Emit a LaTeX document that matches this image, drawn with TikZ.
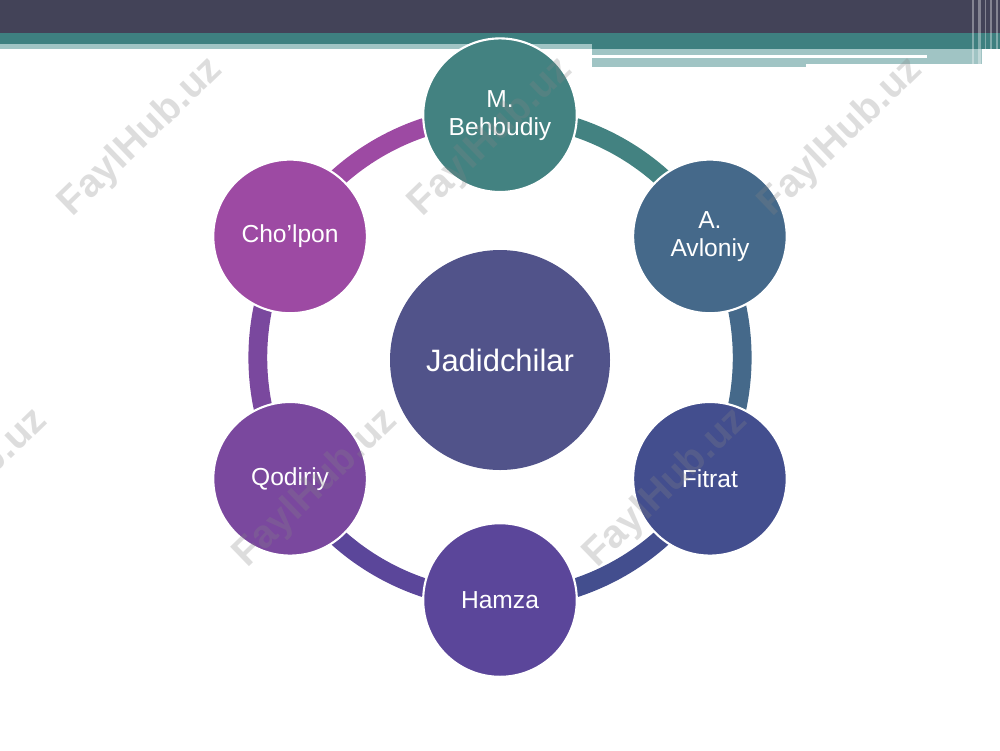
\documentclass[tikz,border=0pt]{standalone}
\usepackage{fontspec}
\setmainfont{Liberation Sans}
\usetikzlibrary{calc,positioning,backgrounds}
\definecolor{barDark}{HTML}{434358}
\definecolor{barTeal}{HTML}{3E8080}
\definecolor{barLight}{HTML}{A0C4C4}
\definecolor{cBeh}{HTML}{438281}
\definecolor{cAvl}{HTML}{45698A}
\definecolor{cFit}{HTML}{434E8E}
\definecolor{cHam}{HTML}{5B469A}
\definecolor{cQod}{HTML}{7A489E}
\definecolor{cCho}{HTML}{9D4AA3}
\definecolor{cJad}{HTML}{51538A}
\tikzset{
        person/.style = {circle, draw=white, line width=1.5pt,
            text=white, align=center,
            minimum size=3.84cm,
            font=\fontsize{17.5}{20}\selectfont},
        hub/.style = {circle, fill=cJad, text=white,
            minimum size=5.5cm,
            font=\fontsize{22}{26}\selectfont},
        ring/.style = {line width=0.47cm, bend left=30, looseness=0.91},
        wmark/.style = {rotate=44, text=black!48, text opacity=0.27,
            font=\bfseries\fontsize{28}{28}\selectfont},
    }

\begin{document}
\begin{tikzpicture}
    \useasboundingbox (0,0) rectangle (25,-18.75);

    % header bars
    \fill[barDark] (0,0) rectangle (25,-0.83);
    \fill[barTeal] (0,-0.83) rectangle (25,-1.1);
    \fill[barTeal] (14.8,-1.1) rectangle (25,-1.225);
    \fill[barLight] (0,-1.1) rectangle (14.8,-1.225);
    \fill[barLight] (14.8,-1.225) rectangle (24.55,-1.6);
    \fill[barLight] (14.8,-1.6) rectangle (20.15,-1.675);
    \fill[white] (14.8,-1.375) rectangle (23.175,-1.45);
    \foreach \x/\w in {24.3/0.05, 24.45/0.08, 24.62/0.04, 24.75/0.06, 24.9/0.04}
        \fill[white, opacity=0.35] (\x,0) rectangle ++(\w,-1.675);

    \coordinate (o) at (12.5,-8.94);
    \node[hub] (jad) at (12.5,-9.0) {Jadidchilar};

    \node[person, fill=cBeh] (beh) at ($(o)+(90:6.06)$) {M.\\Behbudiy};
    \node[person, fill=cAvl] (avl) at ($(o)+(30:6.06)$) {A.\\Avloniy};
    \node[person, fill=cFit] (fit) at ($(o)+(-30:6.06)$) {Fitrat};
    \node[person, fill=cHam] (ham) at ($(o)+(-90:6.06)$) {Hamza};
    \node[person, fill=cQod] (qod) at ($(o)+(-150:6.06)$) {Qodiriy};
    \node[person, fill=cCho] (cho) at ($(o)+(150:6.06)$) {Cho'lpon};

    \begin{scope}[on background layer]
        \fill[white] (0,0) rectangle (25,-18.75);
        \foreach \p/\q/\col in {beh/avl/cBeh, avl/fit/cAvl, fit/ham/cFit,
                ham/qod/cHam, qod/cho/cQod, cho/beh/cCho}
            \draw[ring, \col] (\p.center) to (\q.center);
    \end{scope}

    % watermark
    \foreach \x/\y [count=\i] in {3.53/-3.43, 12.28/-3.43, 21.03/-3.43,
            -0.85/-12.2, 7.9/-12.2, 16.65/-12.2}
        \node[wmark] (w\i) at (\x,\y) {FaylHub.uz};
\end{tikzpicture}
\end{document}
